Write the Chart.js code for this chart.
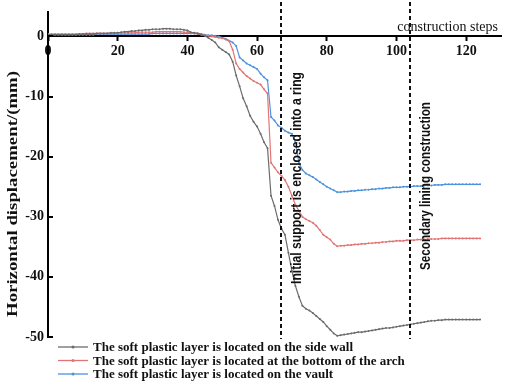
<!DOCTYPE html>
<html>
<head>
<meta charset="utf-8">
<script src="https://cdn.jsdelivr.net/npm/chart.js@4.4.1/dist/chart.umd.min.js"></script>
<style>
  html, body { margin: 0; padding: 0; background: #fff; }
  #wrap { width: 505px; height: 388px; }
</style>
</head>
<body>
<div id="wrap"><canvas id="chart-displacement"></canvas></div>
<script>
// construction step index and horizontal displacement (mm)
const steps = [
  0, 1, 2, 3, 4, 5, 6, 7, 8, 9, 10, 11, 12, 13, 14, 15, 16, 17, 18, 19,
  20, 21, 22, 23, 24, 25, 26, 27, 28, 29, 30, 31, 32, 33, 34, 35, 36, 37, 38, 39,
  40, 41, 42, 43, 44, 45, 46, 47, 48, 49, 50, 51, 52, 53, 54, 55, 56, 57, 58, 59,
  60, 61, 62, 63, 64, 65, 66, 67, 68, 69, 70, 71, 72, 73, 74, 75, 76, 77, 78, 79,
  80, 81, 82, 83, 84, 85, 86, 87, 88, 89, 90, 91, 92, 93, 94, 95, 96, 97, 98, 99,
  100, 101, 102, 103, 104, 105, 106, 107, 108, 109, 110, 111, 112, 113, 114, 115, 116, 117, 118, 119,
  120, 121, 122, 123, 124,
];
const sideWall = [
  0.3, 0.3, 0.3, 0.3, 0.3, 0.3, 0.3, 0.3, 0.3, 0.4,
  0.4, 0.4, 0.4, 0.4, 0.5, 0.5, 0.5, 0.5, 0.6, 0.6,
  0.6, 0.7, 0.8, 0.8, 0.9, 0.9, 1.0, 1.0, 1.1, 1.1,
  1.2, 1.2, 1.2, 1.3, 1.3, 1.3, 1.2, 1.2, 1.2, 1.1,
  1.0, 0.7, 0.6, 0.5, 0.3, 0.1, -0.2, -0.6, -1.0, -1.8,
  -2.2, -2.6, -3.0, -4.2, -6.5, -8.3, -10.3, -11.6, -13.2, -14.2,
  -15.0, -16.2, -17.6, -18.6, -26.5, -28.2, -30.5, -32.0, -33.0, -36.0,
  -39.0, -41.5, -43.3, -44.8, -45.3, -45.6, -46.0, -46.5, -47.0, -47.5,
  -48.2, -48.8, -49.4, -49.8, -49.7, -49.6, -49.5, -49.4, -49.3, -49.2,
  -49.2, -49.1, -49.0, -48.9, -48.8, -48.7, -48.6, -48.5, -48.5, -48.4,
  -48.3, -48.2, -48.1, -48.0, -47.9, -47.8, -47.7, -47.6, -47.5, -47.4,
  -47.3, -47.3, -47.2, -47.2, -47.1, -47.1, -47.1, -47.1, -47.1, -47.1,
  -47.1, -47.1, -47.1, -47.1, -47.1,
];
const archBottom = [
  0.4, 0.4, 0.4, 0.4, 0.4, 0.4, 0.4, 0.4, 0.4, 0.4,
  0.4, 0.5, 0.5, 0.5, 0.5, 0.5, 0.5, 0.5, 0.5, 0.5,
  0.6, 0.6, 0.6, 0.6, 0.6, 0.6, 0.7, 0.7, 0.7, 0.7,
  0.7, 0.8, 0.8, 0.8, 0.8, 0.8, 0.8, 0.8, 0.8, 0.7,
  0.7, 0.6, 0.5, 0.4, 0.3, 0.2, 0.1, 0.0, -0.1, -0.2,
  -0.3, -0.5, -0.8, -2.2, -4.5, -5.4, -6.0, -6.6, -7.0, -7.4,
  -7.7, -8.0, -8.8, -9.5, -21.0, -21.8, -22.6, -23.2, -23.9, -25.0,
  -26.5, -28.0, -29.0, -30.0, -30.4, -30.7, -31.0, -31.5, -32.2, -33.0,
  -33.4, -33.8, -34.5, -34.9, -34.8, -34.8, -34.7, -34.7, -34.6, -34.6,
  -34.5, -34.5, -34.4, -34.4, -34.3, -34.3, -34.2, -34.2, -34.1, -34.1,
  -34.0, -34.0, -34.0, -33.9, -33.9, -33.9, -33.8, -33.8, -33.8, -33.7,
  -33.7, -33.7, -33.7, -33.6, -33.6, -33.6, -33.6, -33.6, -33.6, -33.6,
  -33.6, -33.6, -33.6, -33.6, -33.6,
];
const vault = [
  0.3, 0.3, 0.3, 0.3, 0.3, 0.3, 0.3, 0.3, 0.3, 0.3,
  0.3, 0.3, 0.3, 0.3, 0.4, 0.4, 0.4, 0.4, 0.4, 0.4,
  0.4, 0.4, 0.4, 0.4, 0.4, 0.4, 0.4, 0.4, 0.4, 0.4,
  0.5, 0.5, 0.5, 0.5, 0.5, 0.5, 0.5, 0.5, 0.5, 0.5,
  0.5, 0.5, 0.5, 0.5, 0.4, 0.3, 0.2, 0.2, 0.1, 0.0,
  -0.2, -0.4, -0.7, -1.0, -1.6, -3.5, -4.0, -4.5, -4.8, -5.1,
  -5.4, -6.2, -6.8, -7.3, -13.4, -14.0, -14.8, -15.2, -15.7, -16.0,
  -16.2, -17.6, -21.0, -22.2, -22.8, -23.1, -23.4, -23.8, -24.2, -24.6,
  -25.0, -25.3, -25.6, -25.9, -25.9, -25.8, -25.8, -25.7, -25.7, -25.6,
  -25.6, -25.5, -25.5, -25.4, -25.4, -25.3, -25.3, -25.2, -25.2, -25.1,
  -25.1, -25.1, -25.0, -25.0, -25.0, -24.9, -24.9, -24.9, -24.8, -24.8,
  -24.8, -24.7, -24.7, -24.7, -24.6, -24.6, -24.6, -24.6, -24.6, -24.6,
  -24.6, -24.6, -24.6, -24.6, -24.6,
];
const seriesNames = [
  "The soft plastic layer is located on the side wall",
  "The soft plastic layer is located at the bottom of the arch",
  "The soft plastic layer is located on the vault",
];
const xTicks = [0, 20, 40, 60, 80, 100, 120];
const yTicks = [0, -10, -20, -30, -40, -50];
const stageSteps = [67, 104];
const stageNames = ["Initial support is enclosed into a ring", "Secondary lining construction"];

const COLORS = { gray: "#6c6c6c", red: "#e27474", blue: "#4d92dd", ink: "#111" };
const SERIF = "'Liberation Serif', 'Times New Roman', serif";
const SANS = "'Liberation Sans', Arial, sans-serif";

const toPoints = (values) => values.map((v, i) => ({ x: steps[i], y: v }));

const series = (label, values, color) => ({
  label,
  data: toPoints(values),
  borderColor: color,
  backgroundColor: color,
  borderWidth: 1.2,
  pointRadius: 1,
  pointBorderWidth: 0,
  pointBackgroundColor: color,
  tension: 0,
});

// squeeze a string horizontally so it runs over `len` pixels
const fitText = (ctx, text, len) => {
  const w = ctx.measureText(text).width;
  const k = len / w;
  ctx.save();
  ctx.scale(k, 1);
  ctx.fillText(text, 0, 0);
  ctx.restore();
};

// dashed stage lines, rotated notes, axis captions and the legend box
const annotations = {
  id: "annotations",
  afterDraw(chart) {
    const { ctx, chartArea, scales: { x, y } } = chart;
    const zeroY = y.getPixelForValue(0);
    ctx.save();

    // inward ticks on the y axis
    ctx.strokeStyle = "#000";
    ctx.lineWidth = 2;
    yTicks.forEach((v) => {
      const py = Math.round(y.getPixelForValue(v));
      ctx.beginPath();
      ctx.moveTo(chartArea.left, py);
      ctx.lineTo(chartArea.left + 5, py);
      ctx.stroke();
    });

    ctx.strokeStyle = COLORS.ink;
    ctx.setLineDash([4, 3]);
    stageSteps.forEach((s) => {
      const px = Math.round(x.getPixelForValue(s));
      ctx.beginPath();
      ctx.moveTo(px, 2);
      ctx.lineTo(px, chartArea.bottom + 2);
      ctx.stroke();
    });
    ctx.setLineDash([]);

    ctx.fillStyle = COLORS.ink;
    ctx.font = "bold 15px " + SANS;
    ctx.textAlign = "left";
    ctx.textBaseline = "middle";
    const noteBottoms = [284, 270];
    const noteLengths = [212, 168];
    stageSteps.forEach((s, i) => {
      const px = x.getPixelForValue(s) + 15;
      ctx.save();
      ctx.translate(px, noteBottoms[i]);
      ctx.rotate(-Math.PI / 2);
      fitText(ctx, stageNames[i], noteLengths[i]);
      ctx.restore();
    });

    ctx.font = "14px " + SERIF;
    ctx.textAlign = "right";
    ctx.textBaseline = "alphabetic";
    ctx.fillText("construction steps", chartArea.right - 3, zeroY - 5);

    ctx.font = "bold 15px " + SERIF;
    ctx.textAlign = "left";
    ctx.textBaseline = "middle";
    ctx.save();
    ctx.translate(13, 317);
    ctx.rotate(-Math.PI / 2);
    fitText(ctx, "Horizontal displacement/(mm)", 246);
    ctx.restore();

    // legend
    ctx.font = "bold 13px " + SERIF;
    ctx.textAlign = "left";
    const legendScale = 260 / ctx.measureText(seriesNames[0]).width;
    chart.data.datasets.forEach((ds, i) => {
      const ly = chartArea.bottom + 10 + i * 13.5;
      ctx.strokeStyle = ds.borderColor;
      ctx.lineWidth = 1.3;
      ctx.beginPath();
      ctx.moveTo(58, ly);
      ctx.lineTo(88, ly);
      ctx.stroke();
      ctx.fillStyle = ds.borderColor;
      ctx.beginPath();
      ctx.arc(73, ly, 1.5, 0, Math.PI * 2);
      ctx.fill();
      ctx.fillStyle = COLORS.ink;
      ctx.save();
      ctx.translate(93, ly + 1);
      ctx.scale(legendScale, 1);
      ctx.fillText(ds.label, 0, 0);
      ctx.restore();
    });

    ctx.restore();
  },
};

const CHART_WRAPPER = document.getElementById("chart-displacement");

const CHART_CONFIG = {
  type: "line",
  data: {
    datasets: [
      series(seriesNames[0], sideWall, COLORS.gray),
      series(seriesNames[1], archBottom, COLORS.red),
      series(seriesNames[2], vault, COLORS.blue),
    ],
  },
  options: {
    responsive: true,
    maintainAspectRatio: false,
    animation: false,
    layout: {
      padding: { top: 12, right: 3, bottom: 51, left: 0 },
    },
    plugins: {
      legend: { display: false },
      tooltip: { enabled: false },
    },
    scales: {
      x: {
        type: "linear",
        min: 0,
        max: 130,
        position: { y: 0 },
        afterBuildTicks: (scale) => {
          scale.ticks = xTicks.map((v) => ({ value: v }));
        },
        border: { display: true, color: "#000", width: 2 },
        grid: {
          drawOnChartArea: false,
          drawTicks: true,
          tickLength: 4,
          tickWidth: 2,
          tickColor: "#000",
        },
        ticks: {
          color: COLORS.ink,
          padding: 3,
          maxRotation: 0,
          font: { family: SERIF, size: 14, weight: "bold" },
        },
      },
      y: {
        type: "linear",
        min: -50,
        max: 4,
        afterBuildTicks: (scale) => {
          scale.ticks = yTicks.map((v) => ({ value: v }));
        },
        afterFit: (scale) => {
          scale.width = 48;
        },
        border: { display: true, color: "#000", width: 2 },
        grid: { display: false, drawTicks: false },
        ticks: {
          color: COLORS.ink,
          padding: 4,
          font: { family: SERIF, size: 14, weight: "bold" },
        },
      },
    },
  },
  plugins: [annotations],
};

if (CHART_WRAPPER) {
  new Chart(CHART_WRAPPER, CHART_CONFIG);
}
</script>
</body>
</html>
